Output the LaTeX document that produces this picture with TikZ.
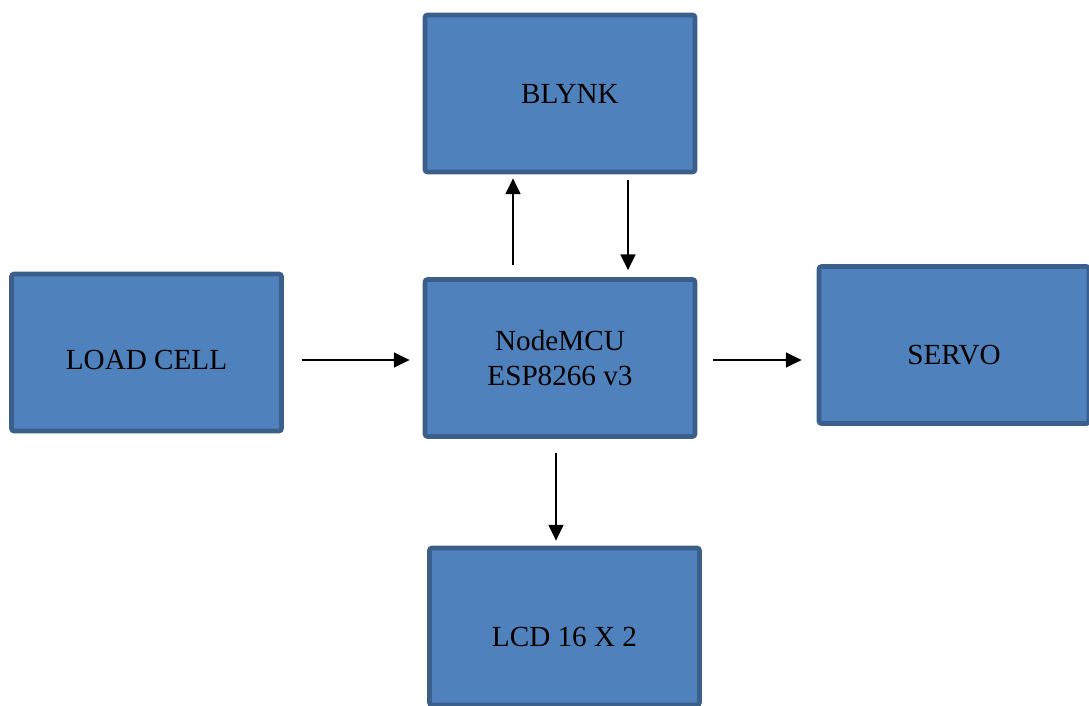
\documentclass[tikz,border=0pt]{standalone}
\usepackage{fontspec}
\setmainfont{Liberation Serif}
\usepackage{tikz}
\usetikzlibrary{arrows.meta}
\definecolor{boxfill}{HTML}{4F81BD}
\definecolor{boxline}{HTML}{3A5F8B}

\begin{document}
\begin{tikzpicture}[->,>={Triangle[length=9pt,width=8.5pt]},line width=1.1pt]
  \tikzstyle{block}=[rectangle,rounded corners=1.5pt,fill=boxfill,draw=boxline,
                     line width=2.7pt,minimum width=5.4cm,minimum height=3.14cm,
                     text=black,align=center,font=\fontsize{16.6}{20}\selectfont]
  \useasboundingbox (0,0) rectangle (21.78,14.1);

  \node[block] (blynk) at (11.2,12.23) {\hspace*{0.4cm}BLYNK};
  \node[block] (mcu)   at (11.2,6.94)  {NodeMCU\\ESP8266 v3};
  \node[block] (load)  at (2.93,7.05)  {\raisebox{-9.75pt}[0pt][0pt]{LOAD CELL}};
  \node[block] (servo) at (19.08,7.2)  {\raisebox{-11.2pt}[0pt][0pt]{SERVO}};
  \node[block] (lcd)   at (11.29,1.57) {\raisebox{-11.2pt}[0pt][0pt]{LCD 16 X 2}};

  \draw[shorten <=0.36cm,shorten >=0.26cm] ([yshift=-0.04cm]load.east |- mcu.center) -- ([yshift=-0.04cm]mcu.west);
  \draw[shorten <=0.32cm,shorten >=0.30cm] ([yshift=-0.04cm]mcu.east) -- ([yshift=-0.04cm]servo.west |- mcu.center);
  \draw[shorten <=0.24cm,shorten >=0.08cm] ([xshift=-0.94cm]mcu.north) -- ([xshift=-0.94cm]mcu.north |- blynk.south);
  \draw[shorten <=0.12cm,shorten >=0.14cm] ([xshift=1.36cm]blynk.south) -- ([xshift=1.36cm]blynk.south |- mcu.north);
  \draw[shorten <=0.28cm,shorten >=0.10cm] ([xshift=-0.08cm]mcu.south) -- ([xshift=-0.08cm]mcu.south |- lcd.north);
\end{tikzpicture}
\end{document}
